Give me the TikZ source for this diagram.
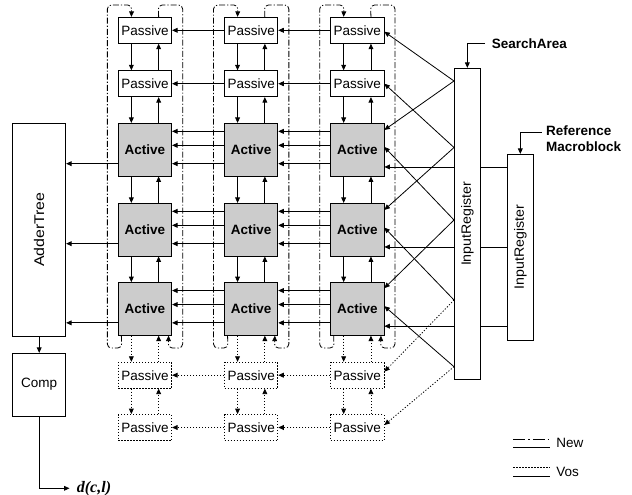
\documentclass[tikz,border=0pt]{standalone}
\usepackage{fontspec}
\setmainfont{Liberation Sans}
\newfontfamily\dclfont{Liberation Serif}
\usetikzlibrary{arrows.meta,backgrounds,calc}
\begin{document}
\begin{tikzpicture}[x=1pt,y=-1pt,
  base/.style={font=\fontsize{13.5}{16.2}\selectfont},
  bold/.style={font=\fontsize{13.5}{16.2}\selectfont\bfseries},
  pbox/.style={draw, line width=0.8pt, fill=white, minimum width=53.3pt, minimum height=26pt, inner sep=0pt, base},
  abox/.style={pbox, fill=gray!40, minimum height=52.7pt, bold},
  dt/.style={dash pattern=on 1.2pt off 1.8pt},
  qbox/.style={pbox, dt},
  arr/.style={-{Triangle[length=5.5pt,width=4.8pt]}, line width=0.8pt},
  dd/.style={dash pattern=on 6pt off 2pt on 1.2pt off 2pt},
  reg/.style={draw, line width=0.8pt, fill=white, inner sep=0pt, base},
  lbl/.style={anchor=west, inner sep=0pt},
  line width=0.8pt]
\useasboundingbox (0,0) rectangle (632,495);

% PE array
\foreach \c/\x in {1/145,2/251.2,3/357.3} {
  \node[pbox] (p1c\c) at (\x,30.3) {Passive};
  \node[pbox] (p2c\c) at (\x,83.7) {Passive};
  \node[abox] (a1c\c) at (\x,149.7) {Active};
  \node[abox] (a2c\c) at (\x,229.7) {Active};
  \node[abox] (a3c\c) at (\x,308.9) {Active};
  \node[qbox] (q1c\c) at (\x,375.2) {Passive};
  \node[qbox] (q2c\c) at (\x,427.5) {Passive};
}

% vertical arrows
\foreach \c in {1,2,3} {
  \foreach \u/\v/\s in {p1/p2/solid, p2/a1/solid, a1/a2/solid, a2/a3/solid, a3/q1/dt, q1/q2/dt} {
    \draw[arr,\s] ([xshift=13.4pt]\u c\c.south west) -- ([xshift=13.4pt]\v c\c.north west);
    \draw[arr,\s] ([xshift=-13.4pt]\v c\c.north east) -- ([xshift=-13.4pt]\u c\c.south east);
  }
}

% horizontal arrows between columns
\foreach \r in {p1,p2} {
  \draw[arr] (\r c2.west) -- (\r c1.east);
  \draw[arr] (\r c3.west) -- (\r c2.east);
}
\foreach \r in {q1,q2} {
  \draw[arr,dt] (\r c2.west) -- (\r c1.east);
  \draw[arr,dt] (\r c3.west) -- (\r c2.east);
}
\foreach \r in {a1,a2,a3} {
  \foreach \d in {8.4,22.4,40.7} {
    \draw[arr] ([yshift=-\d pt]\r c2.north west) -- ([yshift=-\d pt]\r c1.north east);
    \draw[arr] ([yshift=-\d pt]\r c3.north west) -- ([yshift=-\d pt]\r c2.north east);
  }
}

% New (dash-dot) loops
\foreach \c/\x in {1/145,2/251.2,3/357.3} {
  \pgfmathsetmacro\L{\x-26.65}
  \pgfmathsetmacro\R{\x+26.65}
  \draw[arr,dd,rounded corners=4pt] ([xshift=3.4pt]a3c\c.south west) -- ({\L+3.4},348) -- ({\L-11},348) -- ({\L-11},5) -- ({\L+13.4},5) -- ([xshift=13.4pt]p1c\c.north west);
  \draw[arr,dd,rounded corners=4pt] ([xshift=-13.4pt]p1c\c.north east) -- ({\R-13.4},5) -- ({\R+11},5) -- ({\R+11},348) -- ({\R-3.4},348) -- ([xshift=-3.4pt]a3c\c.south east);
}

% Adder tree and comparator
\node[reg, minimum width=53pt, minimum height=212.7pt] (adder) at (39.2,229.65) {\rotatebox{90}{\scalebox{1.18}[1.04]{AdderTree}}};
\node[reg, minimum width=53pt, minimum height=62.7pt] (comp) at (39.2,384.65) {Comp};
\foreach \r in {a1,a2,a3} {
  \coordinate (t\r) at ([yshift=-40.7pt]\r c1.north west);
  \draw[arr] (t\r) -- (adder.east |- t\r);
}
\draw[arr] (adder.south) -- (comp.north);
\node[lbl, font=\dclfont\bfseries\itshape\fontsize{16}{19}\selectfont] (dcl) at (76.5,488.3) {d(c,l)};
\draw[arr] (comp.south) |- ([xshift=-7pt]dcl.west);

% Input registers
\node[reg, minimum width=26.7pt, minimum height=311pt] (sa) at (467.35,223.8) {\rotatebox{90}{\scalebox{1.05}[1]{InputRegister}}};
\node[reg, minimum width=26pt, minimum height=185.7pt] (rm) at (520.3,247.2) {\rotatebox{90}{\scalebox{1.05}[1]{InputRegister}}};

\node[lbl, bold] (salbl) at (491.5,43.3) {SearchArea};
\coordinate (sak) at (485,43.3);
\draw[arr] (sak) -| (sa.north);
\node[lbl, bold, align=left] (rmlbl) at (545.7,139) {Reference\\Macroblock};
\coordinate (rmk) at (541.7,132.3);
\draw[arr] (rmk) -| (rm.north);

% reference macroblock lines (behind search register)
\begin{scope}[on background layer]
\foreach \r in {a1,a2,a3} {
  \coordinate (h\r) at ([yshift=-44pt]\r c3.north east);
  \draw[arr] (rm.west |- h\r) -- (h\r);
}
\end{scope}

% search area diagonals
\coordinate (s1) at (454,81);
\coordinate (s2) at (454,147.5);
\coordinate (s3) at (454,220);
\coordinate (s4) at (454,300);
\coordinate (s5) at (454,366.7);
\draw[arr] (s1) -- ([yshift=-1.4pt]p1c3.east);
\draw[arr] (s1) -- ([yshift=-7pt]a1c3.north east);
\draw[arr] (s2) -- (p2c3.east);
\draw[arr] (s2) -- ([yshift=-7pt]a2c3.north east);
\draw[arr] (s3) -- ([yshift=-24pt]a1c3.north east);
\draw[arr] (s3) -- ([yshift=-6pt]a3c3.north east);
\draw[arr] (s4) -- ([yshift=-24.6pt]a2c3.north east);
\draw[arr,dt] (s4) -- ([yshift=3.5pt]q1c3.east);
\draw[arr] (s5) -- ([yshift=-24pt]a3c3.north east);
\draw[arr,dt] (s5) -- ([yshift=2.5pt]q2c3.east);

% legend
\draw[dash pattern=on 12pt off 3pt on 1.5pt off 3pt] (513.3,439) -- (550,439);
\draw (513.3,447.3) -- (550,447.3);
\draw[dt] (513.3,467.7) -- (550,467.7);
\draw (513.3,476.3) -- (550,476.3);
\node[lbl, base] (lnew) at (556,443.3) {New};
\node[lbl, base] (lvos) at (556,471.7) {Vos};
\end{tikzpicture}
\end{document}
